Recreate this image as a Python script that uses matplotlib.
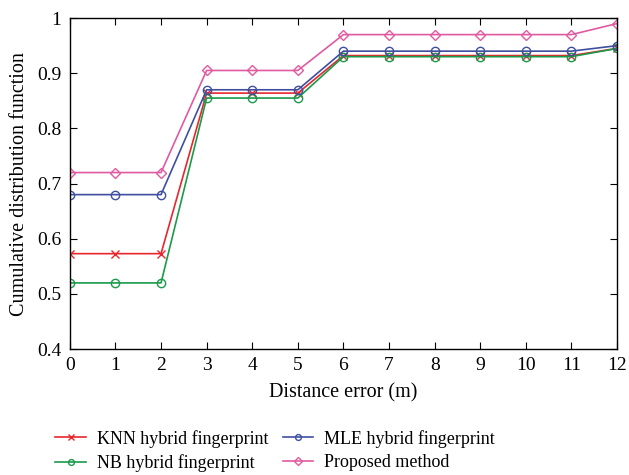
import matplotlib.pyplot as plt
import numpy as np

# distance error (m)
x = np.arange(0, 13)

knn = [0.573, 0.573, 0.573, 0.864, 0.864, 0.864, 0.932, 0.932, 0.932, 0.932, 0.932, 0.932, 0.945]
mle = [0.68, 0.68, 0.68, 0.87, 0.87, 0.87, 0.94, 0.94, 0.94, 0.94, 0.94, 0.94, 0.95]
nb = [0.52, 0.52, 0.52, 0.855, 0.855, 0.855, 0.93, 0.93, 0.93, 0.93, 0.93, 0.93, 0.945]
proposed = [0.72, 0.72, 0.72, 0.905, 0.905, 0.905, 0.97, 0.97, 0.97, 0.97, 0.97, 0.97, 0.99]

yticks = [0.4, 0.5, 0.6, 0.7, 0.8, 0.9, 1.0]
ytick_labels = ["0.4", "0.5", "0.6", "0.7", "0.8", "0.9", "1"]

plt.rcParams['font.family'] = ['Liberation Serif', 'DejaVu Serif']

fig = plt.figure(figsize=(6.29, 4.75), dpi=100)
ax = fig.add_axes([0.111, 0.265, 0.870, 0.697])

ax.plot(x, knn, color='#e8262b', marker='x', ms=6, mfc='none', lw=1.2, label='KNN hybrid fingerprint')
ax.plot(x, nb, color='#1a9a4a', marker='o', ms=6, mfc='none', lw=1.2, label='NB hybrid fingerprint')
ax.plot(x, mle, color='#3f4fa0', marker='o', ms=6, mfc='none', lw=1.2, label='MLE hybrid fingerprint')
ax.plot(x, proposed, color='#e05aa0', marker='D', ms=5.5, mfc='none', lw=1.2, label='Proposed method')

ax.set_xlim(0, 12)
ax.set_ylim(0.4, 1.0)
ax.set_xticks(x)
ax.set_yticks(yticks)
ax.set_yticklabels(ytick_labels)
ax.tick_params(direction='in', top=True, right=True, labelsize=14, length=5, pad=6)
for s in ax.spines.values():
    s.set_linewidth(1.0)

ax.set_xlabel('Distance error (m)', fontsize=14.5, labelpad=6)
ax.set_ylabel('Cumulative distribution function', fontsize=14.5, labelpad=6)

ax.legend(loc='upper center', bbox_to_anchor=(0.375, -0.195), ncol=2, frameon=False,
          fontsize=13, handlelength=1.7, handletextpad=0.6, columnspacing=0.8,
          labelspacing=0.35, markerscale=0.7)

plt.savefig('out.png', dpi=100)
